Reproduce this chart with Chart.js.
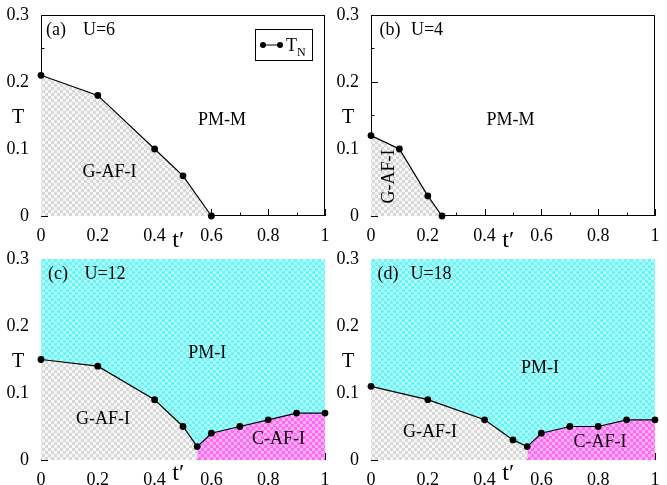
<!DOCTYPE html>
<html><head><meta charset="utf-8">
<script src="https://cdn.jsdelivr.net/npm/chart.js@4.4.1/dist/chart.umd.min.js"></script>
<style>
html,body{margin:0;padding:0;width:667px;height:485px;overflow:hidden;background:#fff;}
canvas{position:absolute;display:block;}
</style></head><body>
<canvas id="ca" width="333" height="250" style="left:0;top:0"></canvas>
<canvas id="cb" width="333" height="250" style="left:330px;top:0"></canvas>
<canvas id="cc" width="333" height="250" style="left:0;top:244px"></canvas>
<canvas id="cd" width="333" height="250" style="left:330px;top:244px"></canvas>
<script>
// ---- data ----
const tpA = [0, 0.2, 0.4, 0.5, 0.6];
const tnA = [0.21, 0.18, 0.10, 0.06, 0.0];
const tpB = [0, 0.1, 0.2, 0.25];
const tnB = [0.12, 0.10, 0.03, 0.0];
const tpC = [0, 0.2, 0.4, 0.5, 0.55, 0.6, 0.7, 0.8, 0.9, 1.0];
const tnC = [0.15, 0.14, 0.09, 0.05, 0.02, 0.04, 0.05, 0.06, 0.07, 0.07];
const tpD = [0, 0.2, 0.4, 0.5, 0.55, 0.6, 0.7, 0.8, 0.9, 1.0];
const tnD = [0.11, 0.09, 0.06, 0.03, 0.02, 0.04, 0.05, 0.05, 0.06, 0.06];
const splitC = 4; // index of G-AF-I / C-AF-I boundary point (t'=0.55)
const xTicks = [0, 0.2, 0.4, 0.6, 0.8, 1];
const xTickLabels = ['0', '0.2', '0.4', '0.6', '0.8', '1'];
const yTicks = [0, 0.1, 0.2, 0.3];
const yTickLabels = ['0', '0.1', '0.2', '0.3'];

const FONT = '"Liberation Serif", "Times New Roman", serif';

function checker(c1, c2, s) {
  const cv = document.createElement('canvas');
  cv.width = 2 * s; cv.height = 2 * s;
  const g = cv.getContext('2d');
  g.fillStyle = c1; g.fillRect(0, 0, 2 * s, 2 * s);
  g.fillStyle = c2; g.fillRect(0, 0, s, s); g.fillRect(s, s, s, s);
  return g.createPattern(cv, 'repeat');
}
const grayPat = checker('#f7f7f7', '#d8d8d8', 3);
const cyanPat = checker('#74f2f2', '#a8ffff', 3);
const pinkPat = checker('#ff6cf2', '#ffb0ff', 3);

function pts(xs, ys, a, b) {
  const out = [];
  for (let i = a; i < b; i++) out.push({x: xs[i], y: ys[i]});
  return out;
}

const decor = {
  id: 'decor',
  beforeDatasetsDraw(chart, args, o) {
    const {ctx, chartArea: a, scales: {x, y}} = chart;
    ctx.save();
    ctx.strokeStyle = '#000'; ctx.lineWidth = 1;
    ctx.beginPath();
    for (let i = 0; i <= 10; i++) {
      const px = Math.round(x.getPixelForValue(i / 10)) + 0.5;
      const len = i % 2 === 0 ? 7 : 3.5;
      ctx.moveTo(px, a.bottom); ctx.lineTo(px, a.bottom - len);
    }
    for (let j = 0; j <= 6; j++) {
      const py = Math.round(y.getPixelForValue(j * 0.05)) + 0.5;
      const len = j % 2 === 0 ? 7 : 3.5;
      ctx.moveTo(a.left, py); ctx.lineTo(a.left + len, py);
    }
    ctx.stroke();
    ctx.strokeRect(a.left + 0.5, a.top + 0.5, a.right - a.left - 1, a.bottom - a.top - 1);
    ctx.restore();
  },
  afterDraw(chart, args, o) {
    const {ctx, chartArea: a, scales: {x, y}} = chart;
    ctx.save();
    ctx.fillStyle = '#000';
    ctx.textAlign = 'center'; ctx.textBaseline = 'middle';
    ctx.font = '18px ' + FONT;
    ctx.fillText(o.tag, a.left + o.tagDx, a.top + 15);
    ctx.fillText(o.u, a.left + o.uDx, a.top + 15);
    for (const r of o.regions) {
      ctx.save();
      ctx.translate(x.getPixelForValue(r.x), y.getPixelForValue(r.y));
      if (r.rot) ctx.rotate(r.rot);
      ctx.fillText(r.t, 0, 0);
      ctx.restore();
    }
    // axis titles
    ctx.font = '20px ' + FONT;
    ctx.fillText('T', 18, (a.top + a.bottom) / 2 + 2);
    ctx.font = '24px ' + FONT;
    ctx.textBaseline = 'alphabetic';
    ctx.fillText('t\u2032', x.getPixelForValue(0.483), a.bottom + o.tDy);
    if (o.legend) {
      ctx.strokeStyle = '#000'; ctx.lineWidth = 1;
      ctx.strokeRect(255.5, 29.5, 57, 31);
      ctx.beginPath(); ctx.moveTo(263, 45); ctx.lineTo(280, 45); ctx.stroke();
      ctx.beginPath(); ctx.arc(263, 45, 3, 0, Math.PI * 2); ctx.fill();
      ctx.beginPath(); ctx.arc(280, 45, 3, 0, Math.PI * 2); ctx.fill();
      ctx.textAlign = 'left'; ctx.textBaseline = 'alphabetic';
      ctx.font = '18px ' + FONT;
      ctx.fillText('T', 286, 51);
      ctx.font = '12px ' + FONT;
      ctx.fillText('N', 297, 56);
    }
    ctx.restore();
  }
};

function lineDs(xs, ys, fill, bg) {
  return {
    data: pts(xs, ys, 0, xs.length),
    borderColor: '#000', borderWidth: 1.2,
    pointRadius: 3.4, pointBackgroundColor: '#000', pointBorderColor: '#000', pointBorderWidth: 0,
    fill: fill, backgroundColor: bg, clip: false, tension: 0
  };
}
function fillDs(data, bg) {
  return {
    data: data, borderColor: 'rgba(0,0,0,0)', borderWidth: 0, pointRadius: 0,
    fill: 'origin', backgroundColor: bg, clip: false
  };
}

function makeChart(id, datasets, deco) {
  return new Chart(document.getElementById(id), {
    type: 'line',
    data: {datasets: datasets},
    plugins: [decor],
    options: {
      responsive: false, animation: false, events: [],
      layout: {padding: {top: 15, right: 8, left: 0, bottom: 0}},
      plugins: {legend: {display: false}, tooltip: {enabled: false}, decor: deco},
      scales: {
        x: {
          type: 'linear', min: 0, max: 1,
          grid: {display: false}, border: {display: false},
          afterBuildTicks: s => { s.ticks = xTicks.map(v => ({value: v})); },
          afterFit: s => { s.height = 34; },
          ticks: {autoSkip: false, maxRotation: 0, padding: 1, color: '#000',
            font: {family: FONT, size: 18},
            callback: (v, i) => xTickLabels[i]}
        },
        y: {
          type: 'linear', min: 0, max: 0.3,
          grid: {display: false}, border: {display: false},
          afterBuildTicks: s => { s.ticks = yTicks.map(v => ({value: v})); },
          afterFit: s => { s.width = 41; },
          ticks: {autoSkip: false, padding: 4, color: '#000',
            font: {family: FONT, size: 18},
            callback: (v, i) => yTickLabels[i]}
        }
      }
    }
  });
}

makeChart('ca', [lineDs(tpA, tnA, 'origin', grayPat)], {
  tag: '(a)', tagDx: 15, u: 'U=6', uDx: 58, legend: true, tDy: 31,
  regions: [{t: 'PM-M', x: 0.637, y: 0.143}, {t: 'G-AF-I', x: 0.241, y: 0.065}]
});
makeChart('cb', [lineDs(tpB, tnB, 'origin', grayPat)], {
  tag: '(b)', tagDx: 19, u: 'U=4', uDx: 56, legend: false, tDy: 31,
  regions: [{t: 'PM-M', x: 0.491, y: 0.143}, {t: 'G-AF-I', x: 0.063, y: 0.059, rot: -Math.PI / 2}]
});
makeChart('cc', [
  lineDs(tpC, tnC, 'end', cyanPat),
  fillDs(pts(tpC, tnC, 0, splitC + 1), grayPat),
  fillDs(pts(tpC, tnC, splitC, tpC.length), pinkPat)
], {
  tag: '(c)', tagDx: 17, u: 'U=12', uDx: 64, legend: false, tDy: 20,
  regions: [{t: 'PM-I', x: 0.585, y: 0.16}, {t: 'G-AF-I', x: 0.218, y: 0.061}, {t: 'C-AF-I', x: 0.836, y: 0.031}]
});
makeChart('cd', [
  lineDs(tpD, tnD, 'end', cyanPat),
  fillDs(pts(tpD, tnD, 0, splitC + 1), grayPat),
  fillDs(pts(tpD, tnD, splitC, tpD.length), pinkPat)
], {
  tag: '(d)', tagDx: 17, u: 'U=18', uDx: 60, legend: false, tDy: 20,
  regions: [{t: 'PM-I', x: 0.595, y: 0.137}, {t: 'G-AF-I', x: 0.208, y: 0.042}, {t: 'C-AF-I', x: 0.806, y: 0.027}]
});
</script>
</body></html>
